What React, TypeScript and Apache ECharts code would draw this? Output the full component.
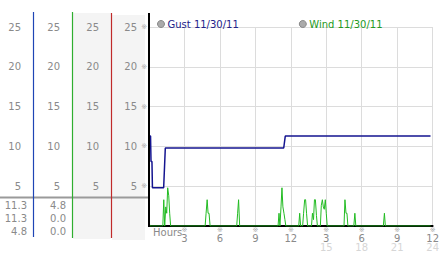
import React, { useEffect, useRef } from "react";
import * as echarts from "echarts";

// ---- data ----
const gustName = "Gust 11/30/11";
const windName = "Wind 11/30/11";

// [hour, mph]
const gustPoints: [number, number][] = [
  [0, 11.3], [0.13, 11.3], [0.17, 8.1], [0.25, 8.1], [0.29, 4.8],
  [1.24, 4.8], [1.38, 9.8], [11.4, 9.8], [11.53, 11.3], [23.82, 11.3],
];

const windPoints: [number, number][] = [
  [0, 0.5], [0.08, 0],
  [1.17, 0], [1.25, 3.3], [1.33, 0], [1.42, 2.4], [1.5, 1.6], [1.58, 4.8], [1.67, 3.8], [1.75, 1.6], [1.83, 0],
  [4.75, 0], [4.83, 1.6], [4.92, 3.3], [5.0, 1.6], [5.08, 1.6], [5.17, 0],
  [7.42, 0], [7.5, 1.6], [7.58, 3.3], [7.67, 0],
  [10.92, 0], [11.0, 1.6], [11.08, 0], [11.17, 2.4], [11.25, 4.8], [11.33, 2.4], [11.42, 1.6], [11.5, 0.8], [11.58, 0],
  [12.67, 0], [12.75, 1.6], [12.83, 0],
  [13.0, 0], [13.08, 1.6], [13.17, 3.3], [13.25, 3.3], [13.33, 1.6], [13.42, 0],
  [13.75, 0], [13.83, 1.6], [13.92, 0.8], [14.0, 3.3], [14.08, 3.3], [14.17, 1.3], [14.25, 0],
  [14.5, 0], [14.58, 2.6], [14.67, 3.3], [14.75, 2.4], [14.83, 2.1], [14.92, 3.3], [15.0, 1.6], [15.08, 0],
  [16.5, 0], [16.58, 3.3], [16.67, 1.6], [16.75, 1.6], [16.83, 0],
  [17.33, 0], [17.42, 1.6], [17.5, 0],
  [19.83, 0], [19.92, 1.6], [20.0, 0],
  [23.83, 0],
];

const xTopLabels = ["", "3", "6", "9", "12", "3", "6", "9", "12"];
const xBottomLabels = ["", "", "", "", "", "15", "18", "21", "24"];
const yMin = 0;
const yMax = 25;
const yStep = 5;

const stats = (pts: [number, number][]) => {
  const v = pts.map((p) => p[1]);
  return [Math.max(...v), v[v.length - 1], Math.min(...v)].map((n) => n.toFixed(1));
};

const FONT = "DejaVu Sans";

export default function App() {
  const ref = useRef<HTMLDivElement>(null);
  useEffect(() => {
    if (!ref.current) return;
    const chart = echarts.init(ref.current, undefined, { renderer: "svg" });
    const gustStats = stats(gustPoints);
    const windStats = stats(windPoints);

    const gridLeft = 149;
    const labelColor = "#8a8a8a";
    const yLab = (v: number) => (v === 0 ? "" : String(v));

    const colAxis = (offset: number) => ({
      type: "value",
      min: yMin,
      max: yMax,
      interval: yStep,
      position: "left",
      offset,
      axisLine: { show: false },
      axisTick: { show: false },
      splitLine: { show: false },
      axisLabel: { margin: 0, color: labelColor, fontSize: 10, fontFamily: FONT, formatter: yLab },
    });

    const statTexts: any[] = [];
    const rowsY = [205, 218, 231];
    gustStats.forEach((s, i) =>
      statTexts.push({
        type: "text", x: 27, y: rowsY[i],
        style: { text: s, fill: labelColor, font: `10px "${FONT}"`, textAlign: "right", textVerticalAlign: "middle" },
      })
    );
    windStats.forEach((s, i) =>
      statTexts.push({
        type: "text", x: 66, y: rowsY[i],
        style: { text: s, fill: labelColor, font: `10px "${FONT}"`, textAlign: "right", textVerticalAlign: "middle" },
      })
    );

    chart.setOption({
      animation: false,
      backgroundColor: "#fff",
      grid: { left: gridLeft, right: 3, top: 27, bottom: 27 },
      legend: {
        left: 152,
        top: 14,
        itemWidth: 7,
        itemHeight: 7,
        itemGap: 60,
        icon: "circle",
        textStyle: { fontSize: 10, fontFamily: FONT, padding: [0, 0, 0, -2] },
        data: [
          { name: gustName, itemStyle: { color: "#aaaaaa", borderColor: "#888", borderWidth: 1 }, textStyle: { color: "#22228a" } },
          { name: windName, itemStyle: { color: "#aaaaaa", borderColor: "#888", borderWidth: 1 }, textStyle: { color: "#229922" } },
        ],
      },
      xAxis: {
        type: "value",
        min: 0,
        max: 24,
        interval: 3,
        axisLine: { show: true, lineStyle: { color: "#000", width: 2 } },
        axisTick: { show: false },
        splitLine: { show: true, lineStyle: { color: "#dcdcdc", width: 1 } },
        axisLabel: {
          margin: 1,
          showMinLabel: true,
          showMaxLabel: true,
          formatter: (v: number) => {
            const i = Math.round(v / 3);
            if (!xTopLabels[i]) return "";
            let s = `{m|※}\n{v|${xTopLabels[i]}}`;
            if (xBottomLabels[i]) s += `\n{s|${xBottomLabels[i]}}`;
            return s;
          },
          verticalAlign: "top",
          rich: {
            m: { fontSize: 7, color: "#aaa", lineHeight: 6, fontFamily: FONT },
            v: { fontSize: 10, color: labelColor, lineHeight: 10, fontFamily: FONT },
            s: { fontSize: 10, color: "#d6d6d6", lineHeight: 9, fontFamily: FONT },
          },
        },
      },
      yAxis: [
        {
          type: "value",
          min: yMin,
          max: yMax,
          interval: yStep,
          axisLine: { show: false },
          axisTick: { show: false },
          splitLine: { show: true, lineStyle: { color: "#dcdcdc", width: 1 } },
          axisLabel: { margin: 12, color: labelColor, fontSize: 10, fontFamily: FONT, formatter: yLab },
        },
        {
          type: "value",
          min: yMin,
          max: yMax,
          interval: yStep,
          position: "left",
          axisLine: { show: false },
          axisTick: { show: false },
          splitLine: { show: false },
          axisLabel: { margin: 2, color: "#aaa", fontSize: 7, fontFamily: FONT, formatter: (v: number) => (v === 0 ? "" : "※") },
        },
        colAxis(50),
        colAxis(89),
        colAxis(128),
      ],
      graphic: [
        { type: "rect", z: -10, shape: { x: 73, y: 13, width: 38, height: 226 }, style: { fill: "#f4f4f4" } },
        { type: "rect", z: -10, shape: { x: 112, y: 15, width: 33, height: 225 }, style: { fill: "#f4f4f4" } },
        { type: "line", z: 1, shape: { x1: 0, y1: 197.5, x2: 149, y2: 197.5 }, style: { stroke: "#9a9a9a", lineWidth: 2 } },
        { type: "line", z: 2, shape: { x1: 33.5, y1: 12, x2: 33.5, y2: 237 }, style: { stroke: "#1f45b5", lineWidth: 1.2 } },
        { type: "line", z: 2, shape: { x1: 72.5, y1: 12, x2: 72.5, y2: 238 }, style: { stroke: "#2fae2f", lineWidth: 1.2 } },
        { type: "line", z: 2, shape: { x1: 111.5, y1: 13, x2: 111.5, y2: 238 }, style: { stroke: "#c02a2a", lineWidth: 1.2 } },
        { type: "line", z: 10, shape: { x1: 149, y1: 13, x2: 149, y2: 227 }, style: { stroke: "#000", lineWidth: 2 } },
        {
          type: "text", x: 153, y: 232,
          style: { text: "Hours", fill: labelColor, font: `10px "${FONT}"`, textVerticalAlign: "middle" },
        },
        ...statTexts,
      ],
      series: [
        {
          name: windName,
          type: "line",
          data: windPoints,
          showSymbol: false,
          symbol: "none",
          lineStyle: { color: "#22bb22", width: 1 },
          itemStyle: { color: "#22bb22" },
          z: 3,
        },
        {
          name: gustName,
          type: "line",
          data: gustPoints,
          showSymbol: false,
          symbol: "none",
          lineStyle: { color: "#141490", width: 1.5 },
          itemStyle: { color: "#141490" },
          z: 4,
        },
      ],
    });
    return () => chart.dispose();
  }, []);
  return (
    <div
      ref={ref}
      style={{ position: "absolute", left: 0, top: 0, width: 442, height: 253 }}
    />
  );
}
